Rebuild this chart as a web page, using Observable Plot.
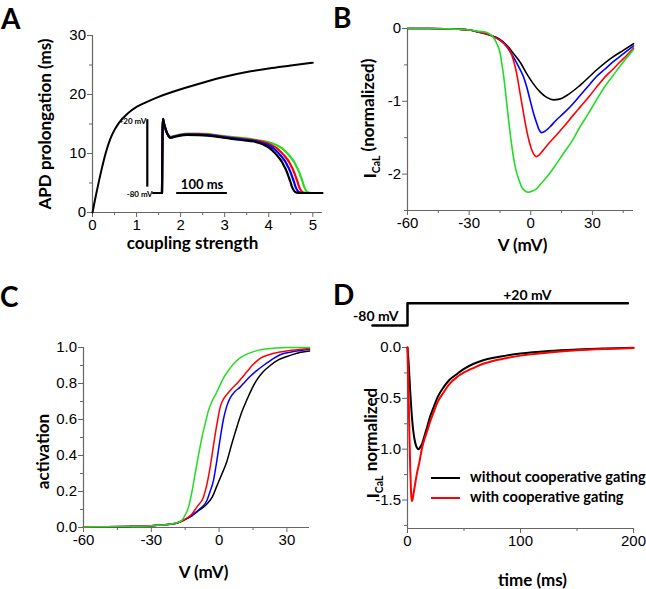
<!DOCTYPE html>
<html>
<head>
<meta charset="utf-8">
<script src="https://cdn.jsdelivr.net/npm/d3@7"></script>
<script src="https://cdn.jsdelivr.net/npm/@observablehq/plot@0.6"></script>
<style>
  html, body { margin: 0; padding: 0; background: #fff; }
  #fig { position: relative; width: 646px; height: 589px; overflow: hidden; background: #fff; }
  #fig > svg, #fig > div { position: absolute; }
  .letter { font-family: Lato, sans-serif; font-weight: 700; font-size: 28px; line-height: 32px; color: #000; }
  .legend { font-family: Lato, sans-serif; font-weight: 700; font-size: 14.6px; line-height: 20px; white-space: nowrap; color: #000; }
  .legend .sw { display: inline-block; width: 29px; height: 0; border-top: 2.5px solid; vertical-align: middle; margin-right: 10px; }
</style>
</head>
<body>
<div id="fig"></div>
<script>
// ---------------- data ----------------
const seriesColors = ["#000000", "#0000ff", "#ff0000", "#22dd22"]; // black, blue, red, green

// Panel A: APD prolongation vs coupling strength
const couplingStrength = [0, 0.05, 0.1, 0.2, 0.3, 0.4, 0.5, 0.6, 0.8, 1.0, 1.25, 1.5, 2, 2.5, 3, 3.5, 4, 4.5, 5];
const apdProlongation  = [0, 1.9, 3.7, 7.1, 10.1, 12.4, 14.0, 15.2, 16.8, 17.9, 18.8, 19.6, 20.9, 22.0, 23.0, 23.8, 24.4, 24.9, 25.4];

// Panel A inset: action potentials [time ms, mV]
const apBlack = [[-17,-80],[0,-80],[0.5,-40],[1.2,8],[2,21],[3,18],[4.5,13],[6.9,7.6],[9,3],[11.5,-0.6],[14,-3.5],[17,-4.7],[21,-4.2],[27,-3],[35,-1.8],[50,-0.8],[70,-1],[89,-1.6],[110,-3.5],[135,-6],[160,-8],[181,-9.7],[200,-14],[214,-19.7],[222,-25],[227,-28.8],[232,-33],[237,-38],[241,-43.5],[244,-47.5],[247,-52.5],[250,-58.4],[253,-64],[255.5,-69.8],[258,-74],[261,-77.5],[265,-79.3],[270,-80],[316,-80]];
const apBlue = [[-17,-80],[0,-80],[0.5,-40],[1.2,8],[2,21],[3,18],[4.5,13],[6.9,7.7],[9,3.1],[11.5,-0.4],[14,-3.2],[17,-4.3],[21,-3.8],[27,-2.6],[35,-1.3],[50,-0.2],[70,-0.3],[89,-0.9],[110,-2.7],[135,-5.1],[160,-7],[181,-8.7],[195,-11.4],[207,-14],[221,-19.7],[229,-25],[234,-28.8],[239,-33],[244,-38],[248,-43.5],[251,-47.5],[254,-52.5],[257,-58.4],[260,-64],[262.5,-69.8],[265,-74],[268,-77.5],[272,-79.3],[277,-80],[316,-80]];
const apRed = [[-17,-80],[0,-80],[0.5,-40],[1.2,8],[2,21],[3,18],[4.5,13],[6.9,7.8],[9,3.2],[11.5,-0.2],[14,-2.9],[17,-3.9],[21,-3.4],[27,-2.2],[35,-0.9],[50,0.3],[70,0.2],[89,-0.3],[110,-2.1],[135,-4.3],[160,-6.2],[181,-7.9],[200,-10.6],[214,-14],[228,-19.7],[236,-25],[241,-28.8],[246,-33],[251,-38],[255,-43.5],[258,-47.5],[261,-52.5],[264,-58.4],[267,-64],[269.5,-69.8],[272,-74],[275,-77.5],[279,-79.3],[284,-80],[316,-80]];
const apGreen = [[-17,-80],[0,-80],[0.5,-40],[1.2,8],[2,21],[3,18],[4.5,13],[6.9,8],[9,3.5],[11.5,0.3],[14,-2.3],[17,-3.2],[21,-2.7],[27,-1.5],[35,-0.2],[50,1.2],[70,1.1],[89,0.6],[110,-1.3],[135,-3.3],[160,-5.2],[181,-7],[200,-9.3],[224,-14],[238,-19.7],[246,-25],[251,-28.8],[256,-33],[261,-38],[265,-43.5],[268,-47.5],[271,-52.5],[274,-58.4],[277,-64],[279.5,-69.8],[282,-74],[285,-77.5],[289,-79.3],[294,-80],[316,-80]];
const insetVoltageBar = [{t: -29, v1: -72, v2: 20}];
const insetTimeBar = [{v: -80, t1: 29, t2: 129}];   // 100 ms
const insetLabels = [{t: -31, v: 20, label: "+20 mV"}, {t: -18.5, v: -80, label: "-80 mV"}];
const insetTimeLabel = [{t: 79, v: -80, label: "100 ms"}];

// Panel B: I-V curves [mV, normalized I_CaL]
const ivBlack = [[-60,0],[-50,-0.001],[-40,-0.005],[-35,-0.01],[-30,-0.02],[-25,-0.05],[-20,-0.09],[-15,-0.15],[-12,-0.22],[-8.5,-0.34],[-5,-0.47],[-2,-0.62],[1,-0.75],[4.5,-0.87],[8,-0.95],[11,-0.98],[14,-0.97],[17.5,-0.92],[24,-0.78],[32,-0.57],[40,-0.39],[45,-0.3],[50,-0.21]];
const ivBlue = [[-60,0],[-50,-0.001],[-40,-0.005],[-35,-0.01],[-30,-0.02],[-25,-0.05],[-20,-0.09],[-15,-0.16],[-12,-0.24],[-8.5,-0.39],[-6,-0.52],[-3.6,-0.66],[-2,-0.8],[-0.35,-0.98],[1.5,-1.18],[2.9,-1.3],[4,-1.39],[5.3,-1.43],[7,-1.41],[9.4,-1.35],[12,-1.27],[15.8,-1.17],[20,-1.05],[24,-0.92],[28,-0.79],[32,-0.66],[36,-0.56],[40,-0.46],[45,-0.35],[50,-0.24]];
const ivRed = [[-60,0],[-50,-0.001],[-40,-0.005],[-35,-0.01],[-30,-0.02],[-25,-0.05],[-20,-0.09],[-15,-0.16],[-11.7,-0.24],[-10,-0.31],[-8.5,-0.43],[-7,-0.6],[-5.2,-0.89],[-3.5,-1.17],[-2,-1.4],[-0.7,-1.56],[0.5,-1.67],[1.5,-1.73],[2.6,-1.76],[4,-1.74],[6.1,-1.67],[9,-1.57],[12.6,-1.46],[16,-1.35],[20.7,-1.19],[24,-1.08],[28.8,-0.92],[33,-0.77],[37,-0.64],[40,-0.56],[43.4,-0.46],[47,-0.36],[50,-0.27]];
const ivGreen = [[-60,0],[-50,-0.001],[-40,-0.005],[-35,-0.01],[-30,-0.02],[-25,-0.04],[-22,-0.05],[-19.8,-0.08],[-18,-0.13],[-16.5,-0.21],[-15,-0.33],[-14.1,-0.48],[-13,-0.7],[-11.7,-1.03],[-10.5,-1.33],[-9.2,-1.62],[-8,-1.84],[-6.8,-1.99],[-5.5,-2.1],[-4.4,-2.18],[-2.8,-2.23],[-1.2,-2.25],[1,-2.23],[2.9,-2.2],[5,-2.13],[7.8,-2.04],[11,-1.92],[15.8,-1.72],[20,-1.55],[24,-1.35],[28,-1.17],[32,-0.98],[36,-0.8],[40.2,-0.64],[45,-0.46],[50,-0.29]];

// Panel C: activation curves [mV, activation]
const actBlack = [[-60,0.003],[-50,0.004],[-40,0.006],[-30,0.01],[-25,0.014],[-21.6,0.018],[-18,0.028],[-15.8,0.04],[-12,0.065],[-9.8,0.087],[-5.4,0.13],[-3,0.17],[-1,0.23],[1,0.29],[3.5,0.37],[5.5,0.46],[7.9,0.56],[10,0.64],[12.3,0.71],[14.5,0.77],[16.7,0.82],[19.5,0.865],[22.6,0.9],[26,0.93],[30,0.95],[35,0.97],[40,0.98]];
const actBlue = [[-60,0.003],[-50,0.004],[-40,0.006],[-30,0.01],[-25,0.014],[-21.6,0.018],[-18,0.028],[-15.8,0.04],[-12,0.068],[-8.4,0.105],[-5.4,0.15],[-4,0.2],[-2.5,0.26],[-1.4,0.34],[-0.3,0.43],[0.8,0.52],[1.9,0.6],[3.3,0.67],[4.9,0.72],[7,0.755],[9.3,0.78],[11.5,0.81],[13.8,0.84],[16.5,0.87],[19.6,0.9],[23,0.93],[27,0.96],[32,0.975],[40,0.99]];
const actRed = [[-60,0.003],[-50,0.004],[-40,0.006],[-30,0.01],[-25,0.014],[-21.6,0.018],[-18,0.028],[-15.8,0.04],[-12,0.075],[-9.8,0.115],[-6.9,0.17],[-5.4,0.24],[-3.9,0.34],[-2.8,0.43],[-1.7,0.52],[-0.6,0.6],[0.5,0.67],[2,0.715],[3.5,0.74],[5.5,0.77],[7.9,0.8],[10,0.83],[12.3,0.865],[15,0.905],[18.2,0.94],[22,0.96],[27,0.975],[32,0.985],[40,0.995]];
const actGreen = [[-60,0.003],[-50,0.004],[-40,0.006],[-30,0.01],[-25,0.014],[-20,0.022],[-16.5,0.04],[-15,0.07],[-13.5,0.115],[-12,0.2],[-10.6,0.3],[-9,0.41],[-7.6,0.5],[-6,0.585],[-4.7,0.65],[-3.2,0.7],[-1.7,0.735],[0,0.78],[1.9,0.83],[4,0.87],[6.4,0.91],[9,0.94],[12.3,0.963],[16,0.98],[19.6,0.99],[25,0.997],[30,1],[40,1]];

// Panel D: current traces [ms, normalized I_CaL]
const traceWithout = [[0,0],[1,-0.15],[2.4,-0.43],[3.5,-0.62],[4.8,-0.79],[6,-0.89],[7.7,-0.97],[9.8,-1.0],[11.3,-0.98],[12.8,-0.95],[15,-0.87],[17.2,-0.79],[20,-0.68],[23,-0.59],[27,-0.48],[32,-0.39],[37,-0.32],[43.8,-0.26],[50,-0.21],[58.6,-0.16],[67,-0.125],[76.3,-0.1],[87,-0.08],[100,-0.06],[125,-0.035],[150,-0.02],[175,-0.01],[200,-0.003]];
const traceWith = [[0,0],[0.5,-0.25],[1.2,-0.59],[1.8,-0.9],[2.4,-1.18],[3,-1.38],[3.6,-1.51],[4.3,-1.5],[5.3,-1.44],[6.5,-1.36],[8.3,-1.24],[10.5,-1.13],[12.8,-0.99],[15,-0.9],[17.2,-0.83],[20,-0.73],[23,-0.64],[27,-0.53],[32,-0.44],[37,-0.36],[43.8,-0.29],[50,-0.245],[58.6,-0.2],[67,-0.16],[76.3,-0.13],[87,-0.105],[100,-0.08],[125,-0.05],[150,-0.028],[175,-0.015],[200,-0.006]];
const legendNames = ["without cooperative gating", "with cooperative gating"];
const legendColors = ["#000000", "#ff0000"];

// Panel D: voltage protocol [ms, mV]
const protocol = [[-31,-80],[0,-80],[0,20],[195,20]];
const protocolLow = [{t: -8, v: -80, label: "-80 mV"}];
const protocolHigh = [{t: 106, v: 20, label: "+20 mV"}];

// ---------------- drawing ----------------
const AXIS = "#666";
const TICK_FONT = "'Liberation Sans', Arial, sans-serif";
const TITLE_FONT = "Lato, 'Open Sans', sans-serif";
const fig = document.getElementById("fig");

function place(el, left, top) { el.style.left = left + "px"; el.style.top = top + "px"; fig.appendChild(el); return el; }

function fmt(digits) { return d => digits ? d.toFixed(digits) : String(d); }

function panel(o) {
  return Plot.plot({
    width: o.width, height: o.height,
    marginLeft: o.ml, marginRight: o.mr, marginTop: o.mt, marginBottom: o.mb,
    style: {fontFamily: TICK_FONT, fontSize: "15px", color: "#000", background: "transparent", overflow: "visible"},
    x: {domain: o.xDomain},
    y: {domain: o.yDomain},
    marks: [
      Plot.axisX({ticks: o.xTicks, tickFormat: fmt(o.xDigits), tickSize: 5, tickPadding: 1.5, stroke: AXIS, fill: "#000", label: null}),
      Plot.axisX({ticks: o.xMinor, tickFormat: () => "", tickSize: 3, stroke: AXIS, label: null}),
      Plot.axisY({ticks: o.yTicks, tickFormat: fmt(o.yDigits), tickSize: 5, tickPadding: 1.5, stroke: AXIS, fill: "#000", label: null}),
      Plot.axisY({ticks: o.yMinor, tickFormat: () => "", tickSize: 3, stroke: AXIS, label: null}),
      Plot.ruleX([o.xDomain[0]], {stroke: AXIS, strokeWidth: 1.2}),
      Plot.ruleY([o.yDomain[0]], {stroke: AXIS, strokeWidth: 1.2}),
      Plot.text([o.xTitle], {text: d => d, frameAnchor: "bottom", textAnchor: "middle", dx: o.xdx, dy: o.xdy, lineAnchor: "middle", fontFamily: TITLE_FONT, fontWeight: "bold", fontSize: o.titleSize || 17}),
      Plot.text([o.yTitle], {text: d => d, frameAnchor: "left", textAnchor: "middle", rotate: -90, dx: o.ydx, dy: o.ydy, lineAnchor: "middle", fontFamily: TITLE_FONT, fontWeight: "bold", fontSize: o.titleSize || 17}),
      ...o.marks
    ]
  });
}

function subscript(svg, whole, main, sub, rest) {
  d3.select(svg).selectAll("text").filter(function() { return this.textContent === whole; }).each(function() {
    const t = d3.select(this);
    t.text(null);
    t.append("tspan").text(main);
    t.append("tspan").attr("font-size", "0.62em").attr("dy", "0.35em").text(sub);
    t.append("tspan").attr("dy", "-0.35em").text(rest);
  });
}

const lineOpts = (color, w) => ({x: d => d[0], y: d => d[1], stroke: color, strokeWidth: w, curve: "monotone-x"});

// Panel A
const svgA = panel({
  width: 330, height: 260, ml: 92, mr: 8, mt: 35, mb: 48,
  xDomain: [0, 5.22], yDomain: [0, 30],
  xTicks: [0, 1, 2, 3, 4, 5], xMinor: [0.5, 1.5, 2.5, 3.5, 4.5],
  yTicks: [0, 10, 20, 30], yMinor: [5, 15, 25],
  xTitle: "coupling strength", xdx: -15, xdy: 31,
  yTitle: "APD prolongation (ms)", ydx: -47, ydy: 0,
  marks: [Plot.line(couplingStrength.map((c, i) => [c, apdProlongation[i]]), lineOpts("#000", 2))]
});
place(svgA, 0, 0);

// Panel A inset
const insetFont = {fontFamily: TITLE_FONT, fontWeight: "bold"};
const svgInset = Plot.plot({
  width: 220, height: 105, margin: 0,
  style: {background: "transparent", overflow: "visible"},
  x: {domain: [0, 100], range: [51.5, 102.2], axis: null},
  y: {domain: [-80, 20], range: [92.5, 19.2], axis: null},
  marks: [
    Plot.line(apGreen, lineOpts(seriesColors[3], 2.2)),
    Plot.line(apRed, lineOpts(seriesColors[2], 2.2)),
    Plot.line(apBlue, lineOpts(seriesColors[1], 2.2)),
    Plot.line(apBlack, lineOpts(seriesColors[0], 2.2)),
    Plot.ruleX(insetVoltageBar, {x: "t", y1: "v1", y2: "v2", stroke: "#000", strokeWidth: 2.2}),
    Plot.ruleY(insetTimeBar, {y: "v", x1: "t1", x2: "t2", stroke: "#000", strokeWidth: 2.2}),
    Plot.text(insetLabels, {x: "t", y: "v", text: "label", textAnchor: "end", dy: 1.5, fontSize: 8, ...insetFont}),
    Plot.text(insetTimeLabel, {x: "t", y: "v", text: "label", textAnchor: "middle", dy: -8, fontSize: 13, ...insetFont})
  ]
});
place(svgInset, 110, 100);

// Panel B
const svgB = panel({
  width: 326, height: 260, ml: 87, mr: 13, mt: 28, mb: 50,
  xDomain: [-60, 50], yDomain: [-2.5, 0],
  xTicks: [-60, -30, 0, 30], xMinor: [-45, -15, 15, 45],
  yTicks: [-2, -1, 0], yMinor: [-2.5, -1.5, -0.5],
  xTitle: "V (mV)", xdx: 2, xdy: 35,
  yTitle: "ICaL (normalized)", ydx: -37, ydy: -1,
  marks: [
    Plot.line(ivBlack, lineOpts(seriesColors[0], 1.6)),
    Plot.line(ivBlue, lineOpts(seriesColors[1], 1.6)),
    Plot.line(ivRed, lineOpts(seriesColors[2], 1.6)),
    Plot.line(ivGreen, lineOpts(seriesColors[3], 1.6))
  ]
});
subscript(svgB, "ICaL (normalized)", "I", "CaL", " (normalized)");
place(svgB, 320, 0);

// Panel C
const svgC = panel({
  width: 330, height: 299, ml: 83, mr: 21, mt: 57, mb: 62,
  xDomain: [-60, 40], yDomain: [0, 1],
  xTicks: [-60, -30, 0, 30], xMinor: [-45, -15, 15],
  yTicks: [0, 0.2, 0.4, 0.6, 0.8, 1.0], yDigits: 1, yMinor: [0.1, 0.3, 0.5, 0.7, 0.9],
  xTitle: "V (mV)", xdx: 7, xdy: 45,
  yTitle: "activation", ydx: -40, ydy: 14,
  marks: [
    Plot.line(actBlack, lineOpts(seriesColors[0], 1.5)),
    Plot.line(actBlue, lineOpts(seriesColors[1], 1.5)),
    Plot.line(actRed, lineOpts(seriesColors[2], 1.5)),
    Plot.line(actGreen, lineOpts(seriesColors[3], 1.5))
  ]
});
place(svgC, 0, 290);

// Panel D
const svgD = panel({
  width: 326, height: 299, ml: 87, mr: 13, mt: 57, mb: 61,
  xDomain: [0, 200], yDomain: [-1.78, 0],
  xTicks: [0, 100, 200], xMinor: [50, 150],
  yTicks: [-1.5, -1.0, -0.5, 0], yDigits: 1, yMinor: [-1.75, -1.25, -0.75, -0.25],
  xTitle: "time (ms)", xdx: 12, xdy: 52,
  yTitle: "ICaL normalized", ydx: -34, ydy: 5,
  marks: [
    Plot.line(traceWithout, lineOpts(legendColors[0], 2)),
    Plot.line(traceWith, lineOpts(legendColors[1], 2))
  ]
});
subscript(svgD, "ICaL normalized", "I", "CaL", " normalized");
place(svgD, 320, 290);

// Panel D protocol
const svgProt = Plot.plot({
  width: 326, height: 50, margin: 0,
  style: {background: "transparent", overflow: "visible"},
  x: {domain: [0, 200], range: [87, 313], axis: null},
  y: {domain: [-80, 20], range: [40, 17.7], axis: null},
  marks: [
    Plot.line(protocol, {x: d => d[0], y: d => d[1], stroke: "#000", strokeWidth: 2.5}),
    Plot.text(protocolLow, {x: "t", y: "v", text: "label", textAnchor: "end", dy: -8.5, fontSize: 14, ...insetFont}),
    Plot.text(protocolHigh, {x: "t", y: "v", text: "label", textAnchor: "middle", dy: -7.5, fontSize: 14, ...insetFont})
  ]
});
place(svgProt, 320, 285);

// Legend (panel D)
legendNames.forEach((name, i) => {
  const div = document.createElement("div");
  div.className = "legend";
  div.innerHTML = `<span class="sw" style="border-color:${legendColors[i]}"></span>${name}`;
  place(div, 431, 467 + i * 20);
});

// Panel letters
[["A", 1, 1.6], ["B", 333, 1], ["C", 0, 280.3], ["D", 333, 278.3]].forEach(([l, x, y]) => {
  const div = document.createElement("div");
  div.className = "letter";
  div.textContent = l;
  place(div, x, y);
});
</script>
</body>
</html>
